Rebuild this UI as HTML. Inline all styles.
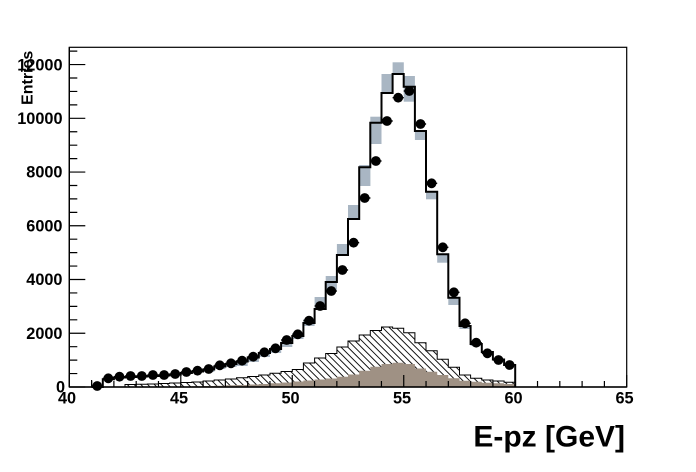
<!DOCTYPE html>
<html>
<head>
<meta charset="utf-8">
<style>
html,body{margin:0;padding:0;background:#fff;}
svg{display:block;}
text{font-family:"Liberation Sans",Arial,sans-serif;font-weight:bold;fill:#000;}
</style>
</head>
<body>
<svg width="696" height="472" viewBox="0 0 696 472" xmlns="http://www.w3.org/2000/svg">
<defs>
<pattern id="hatch" patternUnits="userSpaceOnUse" width="4.8" height="4.8" patternTransform="rotate(-45)">
<rect width="4.8" height="4.8" fill="#fff"/>
<line x1="0.5" y1="0" x2="0.5" y2="4.8" stroke="#000" stroke-width="0.9"/>
</pattern>
</defs>
<rect width="696" height="472" fill="#fff"/>

<!-- grey systematic boxes -->
<g fill="#a9b6c3">
<rect x="203.1" y="369" width="11.2" height="3"/>
<rect x="214.2" y="366" width="11.2" height="3"/>
<rect x="225.4" y="363" width="11.2" height="4"/>
<rect x="236.5" y="361" width="11.2" height="5"/>
<rect x="247.7" y="357" width="11.2" height="5"/>
<rect x="258.8" y="353" width="11.2" height="4"/>
<rect x="270" y="349" width="11.2" height="4"/>
<rect x="281.1" y="340" width="11.2" height="7"/>
<rect x="292.3" y="333" width="11.2" height="6"/>
<rect x="303.4" y="319" width="11.2" height="7"/>
<rect x="314.6" y="297" width="11.2" height="11"/>
<rect x="325.7" y="276" width="11.2" height="14"/>
<rect x="336.9" y="244" width="11.2" height="11"/>
<rect x="348" y="205" width="11.2" height="15"/>
<rect x="359.2" y="165" width="11.2" height="21"/>
<rect x="370.3" y="116.7" width="11.2" height="27.3"/>
<rect x="381.5" y="74" width="11.2" height="19.3"/>
<rect x="392.6" y="62.3" width="11.2" height="11.7"/>
<rect x="403.7" y="76" width="11.2" height="25.7"/>
<rect x="414.9" y="131" width="11.2" height="9"/>
<rect x="426" y="191.7" width="11.2" height="7.6"/>
<rect x="437.2" y="254" width="11.2" height="8.7"/>
<rect x="448.3" y="297.7" width="11.2" height="7.3"/>
<rect x="459.5" y="326" width="11.2" height="3"/>
<rect x="470.6" y="344" width="11.2" height="2"/>
</g>

<!-- hatched component -->
<path d="M125,387 V384.5 H136.2 V384.3 H147.3 V384 H158.5 V383.5 H169.6 V383 H180.8 V382.5 H191.9 V382 H203.1 V381 H214.2 V380 H225.4 V379 H236.5 V377.7 H247.7 V376.5 H258.8 V375 H270 V373.3 H281.1 V371.5 H292.3 V369.5 H303.4 V363 H314.6 V358 H325.7 V353.5 H336.9 V347 H348 V341 H359.2 V335 H370.3 V330.5 H381.5 V327 H392.6 V328.3 H403.7 V332.7 H414.9 V342.7 H426 V350.7 H437.2 V359.3 H448.3 V367.3 H459.5 V375 H470.6 V378.3 H481.8 V380 H492.9 V381 H504.1 V382.3 H515.2 V387 Z" fill="url(#hatch)" stroke="#000" stroke-width="1"/>

<!-- brown component -->
<path d="M180.8,387 V386.5 H191.9 V386.3 H203.1 V386 H214.2 V385.7 H225.4 V385.3 H236.5 V385 H247.7 V384.5 H258.8 V384 H270 V383.3 H281.1 V382.5 H292.3 V381.5 H303.4 V380.5 H314.6 V379.5 H325.7 V378.5 H336.9 V376.7 H348 V374.5 H359.2 V370.7 H370.3 V366.7 H381.5 V364 H392.6 V362.7 H403.7 V364 H414.9 V368.5 H426 V371.7 H437.2 V375 H448.3 V378.3 H459.5 V380.7 H470.6 V381.7 H481.8 V382.7 H492.9 V383.3 H504.1 V384 H515.2 V387 Z" fill="#9f9184"/>

<!-- MC histogram line -->
<path d="M91.6,387 H102.8 V379.3 H113.9 V377.5 H125 V377 H136.2 V376.5 H147.3 V376 H158.5 V375.5 H169.6 V374.5 H180.8 V373 H191.9 V371.5 H203.1 V369.5 H214.2 V366.5 H225.4 V364 H236.5 V361.5 H247.7 V357.5 H258.8 V353 H270 V349 H281.1 V343 H292.3 V336 H303.4 V323 H314.6 V309 H325.7 V282 H336.9 V255 H348 V219 H359.2 V167.3 H370.3 V122.7 H381.5 V93 H392.6 V74 H403.7 V86.7 H414.9 V131 H426 V191.7 H437.2 V254.3 H448.3 V297.7 H459.5 V326 H470.6 V344 H481.8 V352 H492.9 V359.5 H504.1 V365 H515.2 V387" fill="none" stroke="#000" stroke-width="2"/>
<line x1="91.6" y1="380" x2="91.6" y2="387" stroke="#000" stroke-width="1.2"/>

<!-- data points -->
<g fill="#000" stroke="#000">
<g stroke-width="1.4">
<path d="M91.6,386 h11.2 M102.8,378.3 h11.2 M113.9,376.7 h11.2 M125,376 h11.2 M136.2,376 h11.2 M147.3,375 h11.2 M158.5,375 h11.2 M169.6,374 h11.2 M180.8,372 h11.2 M191.9,370.7 h11.2 M203.1,369 h11.2 M214.2,365.3 h11.2 M225.4,363.3 h11.2 M236.5,360.7 h11.2 M247.7,356.7 h11.2 M258.8,352.3 h11.2 M270,348.3 h11.2 M281.1,340 h11.2 M292.3,334.3 h11.2 M303.4,320.7 h11.2 M314.6,306 h11.2 M325.7,291 h11.2 M336.9,270 h11.2 M348,242.7 h11.2 M359.2,198 h11.2 M370.3,161 h11.2 M381.5,121 h11.2 M392.6,97.7 h11.2 M403.7,91 h11.2 M414.9,124 h11.2 M426,183.3 h11.2 M437.2,247.3 h11.2 M448.3,292.3 h11.2 M459.5,323.3 h11.2 M470.6,342.7 h11.2 M481.8,353.3 h11.2 M492.9,360 h11.2 M504.1,365 h11.2" fill="none"/>
</g>
<g stroke="none">
<circle cx="97.2" cy="386" r="4.9"/>
<circle cx="108.3" cy="378.3" r="4.9"/>
<circle cx="119.5" cy="376.7" r="4.9"/>
<circle cx="130.6" cy="376" r="4.9"/>
<circle cx="141.8" cy="376" r="4.9"/>
<circle cx="152.9" cy="375" r="4.9"/>
<circle cx="164.1" cy="375" r="4.9"/>
<circle cx="175.2" cy="374" r="4.9"/>
<circle cx="186.4" cy="372" r="4.9"/>
<circle cx="197.5" cy="370.7" r="4.9"/>
<circle cx="208.7" cy="369" r="4.9"/>
<circle cx="219.8" cy="365.3" r="4.9"/>
<circle cx="231" cy="363.3" r="4.9"/>
<circle cx="242.1" cy="360.7" r="4.9"/>
<circle cx="253.2" cy="356.7" r="4.9"/>
<circle cx="264.4" cy="352.3" r="4.9"/>
<circle cx="275.5" cy="348.3" r="4.9"/>
<circle cx="286.7" cy="340" r="4.9"/>
<circle cx="297.8" cy="334.3" r="4.9"/>
<circle cx="309" cy="320.7" r="4.9"/>
<circle cx="320.1" cy="306" r="4.9"/>
<circle cx="331.3" cy="291" r="4.9"/>
<circle cx="342.4" cy="270" r="4.9"/>
<circle cx="353.6" cy="242.7" r="4.9"/>
<circle cx="364.7" cy="198" r="4.9"/>
<circle cx="375.9" cy="161" r="4.9"/>
<circle cx="387" cy="121" r="4.9"/>
<circle cx="398.2" cy="97.7" r="4.9"/>
<circle cx="409.3" cy="91" r="4.9"/>
<circle cx="420.5" cy="124" r="4.9"/>
<circle cx="431.6" cy="183.3" r="4.9"/>
<circle cx="442.8" cy="247.3" r="4.9"/>
<circle cx="453.9" cy="292.3" r="4.9"/>
<circle cx="465.1" cy="323.3" r="4.9"/>
<circle cx="476.2" cy="342.7" r="4.9"/>
<circle cx="487.4" cy="353.3" r="4.9"/>
<circle cx="498.5" cy="360" r="4.9"/>
<circle cx="509.6" cy="365" r="4.9"/>
</g>
</g>

<!-- frame and axes -->
<rect x="69.3" y="47.3" width="557.4" height="339.7" fill="none" stroke="#000" stroke-width="1.2"/>
<line x1="69.3" y1="387" x2="626.7" y2="387" stroke="#000" stroke-width="1.4"/>
<line x1="69.3" y1="47.3" x2="69.3" y2="387" stroke="#000" stroke-width="1.4"/>

<!-- y ticks -->
<path d="M69.3,387 h16 M69.3,333.26 h16 M69.3,279.52 h16 M69.3,225.78 h16 M69.3,172.04 h16 M69.3,118.3 h16 M69.3,64.56 h16
M69.3,373.57 h8 M69.3,360.13 h8 M69.3,346.69 h8 M69.3,319.82 h8 M69.3,306.39 h8 M69.3,292.95 h8 M69.3,266.08 h8 M69.3,252.65 h8 M69.3,239.21 h8 M69.3,212.34 h8 M69.3,198.91 h8 M69.3,185.47 h8 M69.3,158.6 h8 M69.3,145.17 h8 M69.3,131.73 h8 M69.3,104.86 h8 M69.3,91.43 h8 M69.3,77.99 h8 M69.3,51.12 h8" stroke="#000" stroke-width="1.2" fill="none"/>

<!-- x ticks -->
<path d="M69.3,387 v-12 M180.78,387 v-12 M292.26,387 v-12 M403.74,387 v-12 M515.22,387 v-12 M626.7,387 v-12
M91.6,387 v-6 M113.89,387 v-6 M136.19,387 v-6 M158.48,387 v-6 M203.08,387 v-6 M225.37,387 v-6 M247.67,387 v-6 M269.96,387 v-6 M314.56,387 v-6 M336.85,387 v-6 M359.15,387 v-6 M381.44,387 v-6 M426.04,387 v-6 M448.33,387 v-6 M470.63,387 v-6 M492.92,387 v-6 M537.52,387 v-6 M559.81,387 v-6 M582.11,387 v-6 M604.4,387 v-6" stroke="#000" stroke-width="1.2" fill="none"/>

<!-- y labels -->
<g font-size="16.3" text-anchor="end">
<text x="65" y="392.6">0</text>
<text x="62.5" y="339">2000</text>
<text x="62.5" y="285.2">4000</text>
<text x="62.5" y="231.5">6000</text>
<text x="62.5" y="177.7">8000</text>
<text x="62.5" y="124">10000</text>
<text x="62.5" y="70.3">12000</text>
</g>

<!-- x labels -->
<g font-size="16.3" text-anchor="middle">
<text x="67" y="403.5">40</text>
<text x="179" y="403.5">45</text>
<text x="290.5" y="403.5">50</text>
<text x="402" y="403.5">55</text>
<text x="513.5" y="403.5">60</text>
<text x="624.5" y="403.5">65</text>
</g>

<!-- axis titles -->
<text x="625" y="446.5" font-size="30" text-anchor="end">E-pz [GeV]</text>
<text transform="translate(32.3,50.7) rotate(-90)" font-size="16" text-anchor="end">Entries</text>
</svg>
</body>
</html>
